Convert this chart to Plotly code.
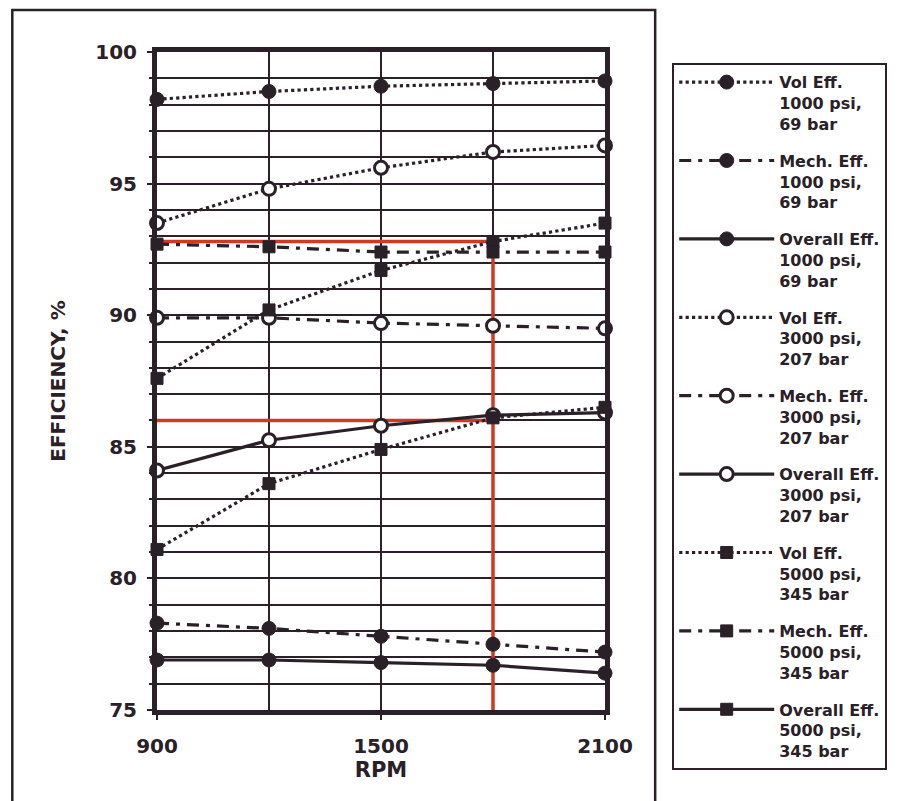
import plotly.graph_objects as go

rpm = [900, 1200, 1500, 1800, 2100]

vol_1000 = [98.2, 98.5, 98.7, 98.8, 98.9]
mech_1000 = [78.3, 78.1, 77.8, 77.5, 77.2]
overall_1000 = [76.9, 76.9, 76.8, 76.7, 76.4]

vol_3000 = [93.5, 94.8, 95.6, 96.2, 96.45]
mech_3000 = [89.9, 89.9, 89.7, 89.6, 89.5]
overall_3000 = [84.1, 85.25, 85.8, 86.2, 86.3]

vol_5000 = [87.6, 90.2, 91.7, 92.8, 93.5]
mech_5000 = [92.7, 92.6, 92.4, 92.4, 92.4]
overall_5000 = [81.1, 83.6, 84.9, 86.1, 86.5]

names = [
    "Vol Eff.<br>1000 psi,<br>69 bar",
    "Mech. Eff.<br>1000 psi,<br>69 bar",
    "Overall Eff.<br>1000 psi,<br>69 bar",
    "Vol Eff.<br>3000 psi,<br>207 bar",
    "Mech. Eff.<br>3000 psi,<br>207 bar",
    "Overall Eff.<br>3000 psi,<br>207 bar",
    "Vol Eff.<br>5000 psi,<br>345 bar",
    "Mech. Eff.<br>5000 psi,<br>345 bar",
    "Overall Eff.<br>5000 psi,<br>345 bar",
]

# reference (red) lines
ref_rpm = [900, 1800]
ref_vol = 92.8
ref_overall = 86.0
y_min, y_max = 75, 100

y_ticks = [75, 80, 85, 90, 95, 100]
x_ticks = [900, 1500, 2100]

INK = "#2a2028"
RED = "#cf3a22"
FONT = "DejaVu Sans"

series = [vol_1000, mech_1000, overall_1000,
          vol_3000, mech_3000, overall_3000,
          vol_5000, mech_5000, overall_5000]
DOT, DASHDOT, SOLID = "dot", "12px,7px,4px,7px", "solid"
legend_dashes = [DOT, DASHDOT, SOLID] * 3
# in the scanned plot the 5000 psi overall curve is drawn dotted
plot_dashes = legend_dashes[:8] + [DOT]
markers = [dict(symbol="circle", size=14, color=INK, line=dict(color=INK, width=1))] * 3 + \
          [dict(symbol="circle", size=13, color="white", line=dict(color=INK, width=3))] * 3 + \
          [dict(symbol="square", size=12, color=INK, line=dict(color=INK, width=1))] * 3

fig = go.Figure()

# red reference lines (drawn beneath)
fig.add_trace(go.Scatter(x=ref_rpm, y=[ref_vol, ref_vol], mode="lines",
                         line=dict(color=RED, width=3.5), showlegend=False, hoverinfo="skip"))
fig.add_trace(go.Scatter(x=[ref_rpm[1], ref_rpm[1]], y=[ref_vol, y_min], mode="lines",
                         line=dict(color=RED, width=3.5), showlegend=False, hoverinfo="skip"))
fig.add_trace(go.Scatter(x=ref_rpm, y=[ref_overall, ref_overall], mode="lines",
                         line=dict(color=RED, width=3.5), showlegend=False, hoverinfo="skip"))

for i, (vals, nm, pd_, ld, mk) in enumerate(zip(series, names, plot_dashes, legend_dashes, markers)):
    same = pd_ == ld
    fig.add_trace(go.Scatter(
        x=rpm, y=vals, name=nm, mode="lines+markers",
        line=dict(color=INK, width=3.2, dash=pd_),
        marker=mk, legendgroup=f"g{i}", cliponaxis=False, showlegend=same,
    ))
    if not same:
        fig.add_trace(go.Scatter(
            x=[None], y=[None], name=nm, mode="lines+markers",
            line=dict(color=INK, width=3.2, dash=ld),
            marker=mk, legendgroup=f"g{i}", showlegend=True,
        ))

axis_common = dict(
    showline=True, mirror=True, linewidth=5, linecolor=INK,
    ticks="outside", ticklen=5, tickwidth=2, tickcolor=INK,
    showgrid=True, gridcolor=INK, gridwidth=2,
    zeroline=False,
    tickfont=dict(family=FONT, size=20, color=INK, weight="bold"),
)

fig.update_layout(
    width=891, height=793,
    margin=dict(l=149, r=287, t=44, b=91),
    paper_bgcolor="white", plot_bgcolor="white",
    showlegend=True,
    legend=dict(
        x=1.150, y=0.983, xanchor="left", yanchor="top",
        bordercolor=INK, borderwidth=2, bgcolor="white",
        font=dict(family=FONT, size=16, color=INK, weight="bold"),
        itemwidth=95, tracegroupgap=13, traceorder="grouped", valign="top",
        maxheight=780,
    ),
    xaxis=dict(
        range=[900, 2100], tickvals=x_ticks, ticklabelstandoff=9,
        minor=dict(dtick=300, tick0=900, showgrid=True, gridcolor=INK, gridwidth=2),
        title=dict(text="RPM", standoff=2,
                   font=dict(family=FONT, size=21, color=INK, weight="bold")),
        **axis_common,
    ),
    yaxis=dict(
        range=[y_min, y_max], tickvals=y_ticks, ticklabelstandoff=6,
        minor=dict(dtick=1, tick0=75, showgrid=True, gridcolor=INK, gridwidth=2,
                   ticks="outside", ticklen=3),
        title=dict(text="EFFICIENCY, %", standoff=26,
                   font=dict(family=FONT, size=20, color=INK, weight="bold")),
        **axis_common,
    ),
    shapes=[dict(type="rect", xref="paper", yref="paper",
                 x0=-0.323, x1=1.112, y0=-0.16, y1=1.064,
                 line=dict(color=INK, width=2.5), layer="below")],
)

fig.write_html("out.html")
